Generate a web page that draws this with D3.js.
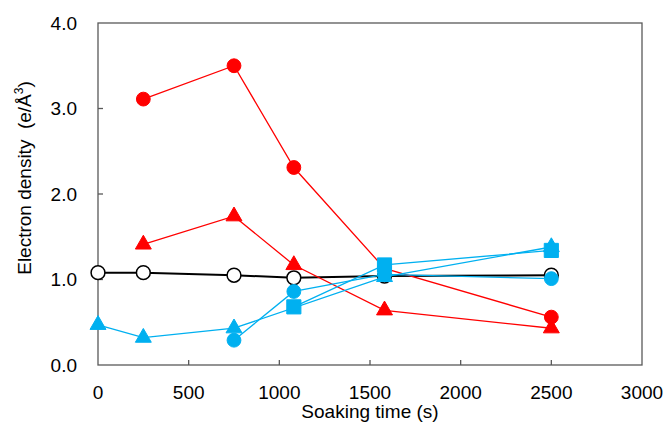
<!DOCTYPE html>
<html>
<head>
<meta charset="utf-8">
<script src="https://cdn.jsdelivr.net/npm/d3@7"></script>
<style>
  body { margin: 0; background: #fff; }
  text { font-family: "Liberation Sans", Arial, sans-serif; fill: #000; }
</style>
</head>
<body>
<script>
// soaking time vs electron density, 6 series
const xTicks = [0, 500, 1000, 1500, 2000, 2500, 3000]
const yTicks = [0, 1, 2, 3, 4]

const redCircT = [250, 750, 1080, 1580, 2500]
const redCircV = [3.11, 3.50, 2.31, 1.13, 0.56]
const redTriT = [250, 750, 1080, 1580, 2500]
const redTriV = [1.41, 1.74, 1.17, 0.64, 0.43]
const blackT = [0, 250, 750, 1080, 1580, 2500]
const blackV = [1.08, 1.08, 1.05, 1.02, 1.04, 1.05]
const blueTriT = [0, 250, 750, 1580, 2500]
const blueTriV = [0.47, 0.32, 0.43, 1.03, 1.38]
const blueCircT = [750, 1080, 1580, 2500]
const blueCircV = [0.29, 0.86, 1.06, 1.01]
const blueSqT = [1080, 1580, 2500]
const blueSqV = [0.68, 1.17, 1.34]

const red = "#ff0000", blue = "#00b0f0"

const series = [
    { t: blackT, v: blackV, shape: "circle", fill: "#fff", stroke: "#000", line: "#000", lw: 2 },
    { t: redCircT, v: redCircV, shape: "circle", fill: red, stroke: red, line: red, lw: 1.3 },
    { t: redTriT, v: redTriV, shape: "triangle", fill: red, stroke: red, line: red, lw: 1.3 },
    { t: blueTriT, v: blueTriV, shape: "triangle", fill: blue, stroke: blue, line: blue, lw: 1.3 },
    { t: blueCircT, v: blueCircV, shape: "circle", fill: blue, stroke: blue, line: blue, lw: 1.3 },
    { t: blueSqT, v: blueSqV, shape: "square", fill: blue, stroke: blue, line: blue, lw: 1.3 }
]

const width = 665, height = 427
const m = { left: 98, right: 23, top: 23, bottom: 62 }
const fs = 19

const svg = d3.select("body").append("svg")
    .attr("width", width)
    .attr("height", height)

const x = d3.scaleLinear().domain([0, 3000]).range([m.left, width - m.right])
const y = d3.scaleLinear().domain([0, 4]).range([height - m.bottom, m.top])

// frame
svg.append("rect")
    .attr("x", x(0)).attr("y", y(4))
    .attr("width", x(3000) - x(0))
    .attr("height", y(0) - y(4))
    .attr("fill", "none")
    .attr("stroke", "#595959")
    .attr("stroke-width", 1.3)

// inward ticks
svg.selectAll(".xt").data(xTicks.slice(1, -1)).join("line")
    .attr("x1", d => x(d)).attr("x2", d => x(d))
    .attr("y1", y(0)).attr("y2", y(0) - 5)
    .attr("stroke", "#595959").attr("stroke-width", 1.3)
svg.selectAll(".yt").data(yTicks.slice(1, -1)).join("line")
    .attr("x1", x(0)).attr("x2", x(0) + 5)
    .attr("y1", d => y(d)).attr("y2", d => y(d))
    .attr("stroke", "#595959").attr("stroke-width", 1.3)

svg.selectAll(".xl").data(xTicks).join("text")
    .attr("x", d => x(d)).attr("y", y(0) + 34)
    .attr("text-anchor", "middle")
    .attr("font-size", fs)
    .text(d => d)
svg.selectAll(".yl").data(yTicks).join("text")
    .attr("x", x(0) - 21).attr("y", d => y(d))
    .attr("dy", "0.36em")
    .attr("text-anchor", "end")
    .attr("font-size", fs)
    .text(d => d.toFixed(1))

svg.append("text")
    .attr("x", (x(0) + x(3000)) / 2).attr("y", height - 9)
    .attr("text-anchor", "middle")
    .attr("font-size", fs)
    .text("Soaking time (s)")

const yl = svg.append("text")
    .attr("transform", "translate(31,178) rotate(-90)")
    .attr("text-anchor", "middle")
    .attr("font-size", fs)
yl.append("tspan").text("Electron density\u00a0 (e/Å")
yl.append("tspan").attr("dy", -8).attr("font-size", 12).text("3")
yl.append("tspan").attr("dy", 8).text(")")

const line = d3.line().x(d => x(d[0])).y(d => y(d[1]))
const symbols = {
    circle: d3.symbol().type(d3.symbolCircle).size(150),
    triangle: d3.symbol().type(d3.symbolTriangle).size(110),
    square: d3.symbol().type(d3.symbolSquare).size(200)
}

series.forEach(s => {
    const pts = s.t.map((t, i) => [t, s.v[i]])
    svg.append("path")
        .attr("d", line(pts))
        .attr("fill", "none")
        .attr("stroke", s.line)
        .attr("stroke-width", s.lw)
    svg.selectAll(null).data(pts).join("path")
        .attr("transform", d => `translate(${x(d[0])},${y(d[1])})`)
        .attr("d", symbols[s.shape]())
        .attr("fill", s.fill)
        .attr("stroke", s.stroke)
        .attr("stroke-width", s.shape === "circle" && s.fill === "#fff" ? 1.5 : 1)
})
</script>
</body>
</html>
